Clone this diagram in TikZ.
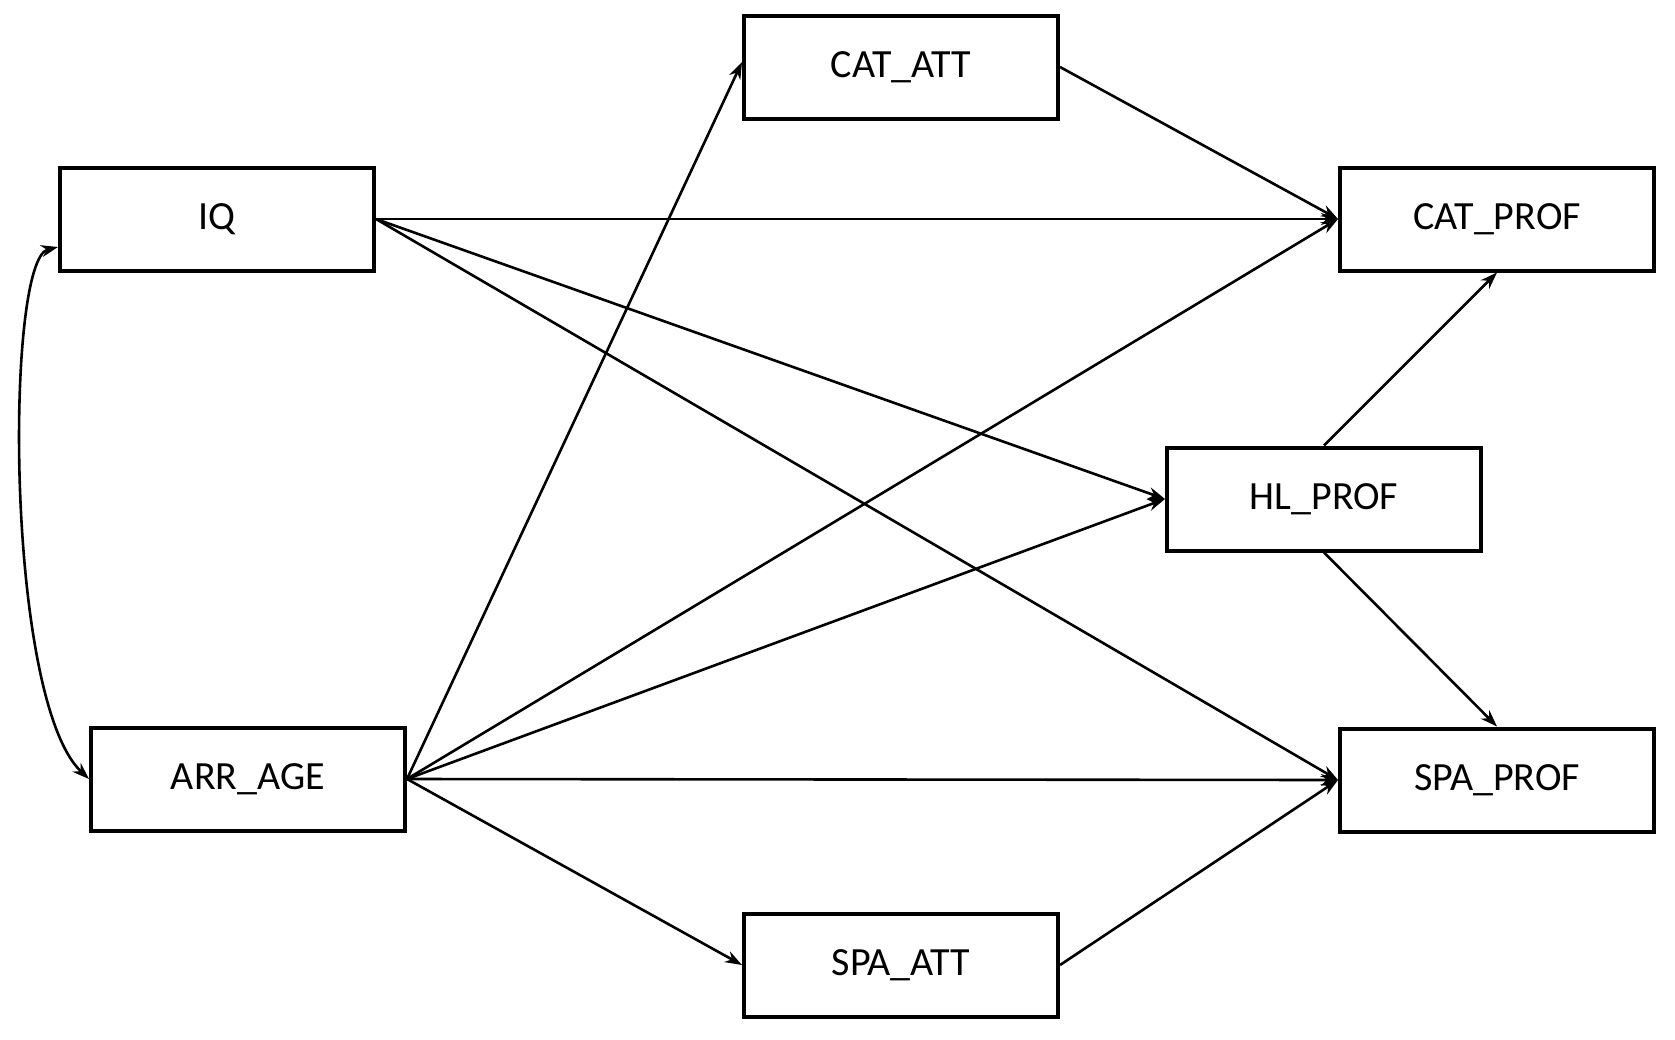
\documentclass[tikz,border=0pt]{standalone}
\usepackage{fontspec}
\setmainfont{Carlito}
\usetikzlibrary{arrows.meta}
\begin{document}
\begin{tikzpicture}[x=1pt,y=-1pt,
  box/.style={draw,line width=4pt,minimum width=314pt,minimum height=103pt,inner sep=0pt,font=\fontsize{40}{48}\selectfont},
  arr/.style={line width=2.6pt,-{Stealth[length=17pt,width=12pt]}},
  dbl/.style={line width=2.6pt,{Stealth[length=17pt,width=12pt]}-{Stealth[length=17pt,width=12pt]}}]
\useasboundingbox (0,0) rectangle (1675,1039);
\node[box] (cat) at (901,67) {CAT\_ATT};
\node[box] (iq) at (217,219) {IQ};
\node[box] (catp) at (1497,219) {CAT\_PROF};
\node[box] (hl) at (1324,499) {HL\_PROF};
\node[box] (arr) at (248,779) {ARR\_AGE};
\node[box] (spap) at (1497,780) {SPA\_PROF};
\node[box] (spa) at (901,965) {SPA\_ATT};
\draw[arr] (iq.east) -- (catp.west);
\draw[arr] (iq.east) -- (hl.west);
\draw[arr] (iq.east) -- (spap.west);
\draw[arr] (arr.east) -- ([yshift=5pt]cat.west);
\draw[arr] (arr.east) -- (catp.west);
\draw[arr] (arr.east) -- (hl.west);
\draw[arr] (arr.east) -- (spap.west);
\draw[arr] (arr.east) -- (spa.west);
\draw[arr] (cat.east) -- (catp.west);
\draw[arr] (spa.east) -- (spap.west);
\draw[arr] (hl.north) -- (catp.south);
\draw[arr] (hl.south) -- (spap.north);
\draw[dbl] ([yshift=-28pt]iq.west) .. controls (5,260) and (5,700) .. (arr.west);
\end{tikzpicture}
\end{document}
